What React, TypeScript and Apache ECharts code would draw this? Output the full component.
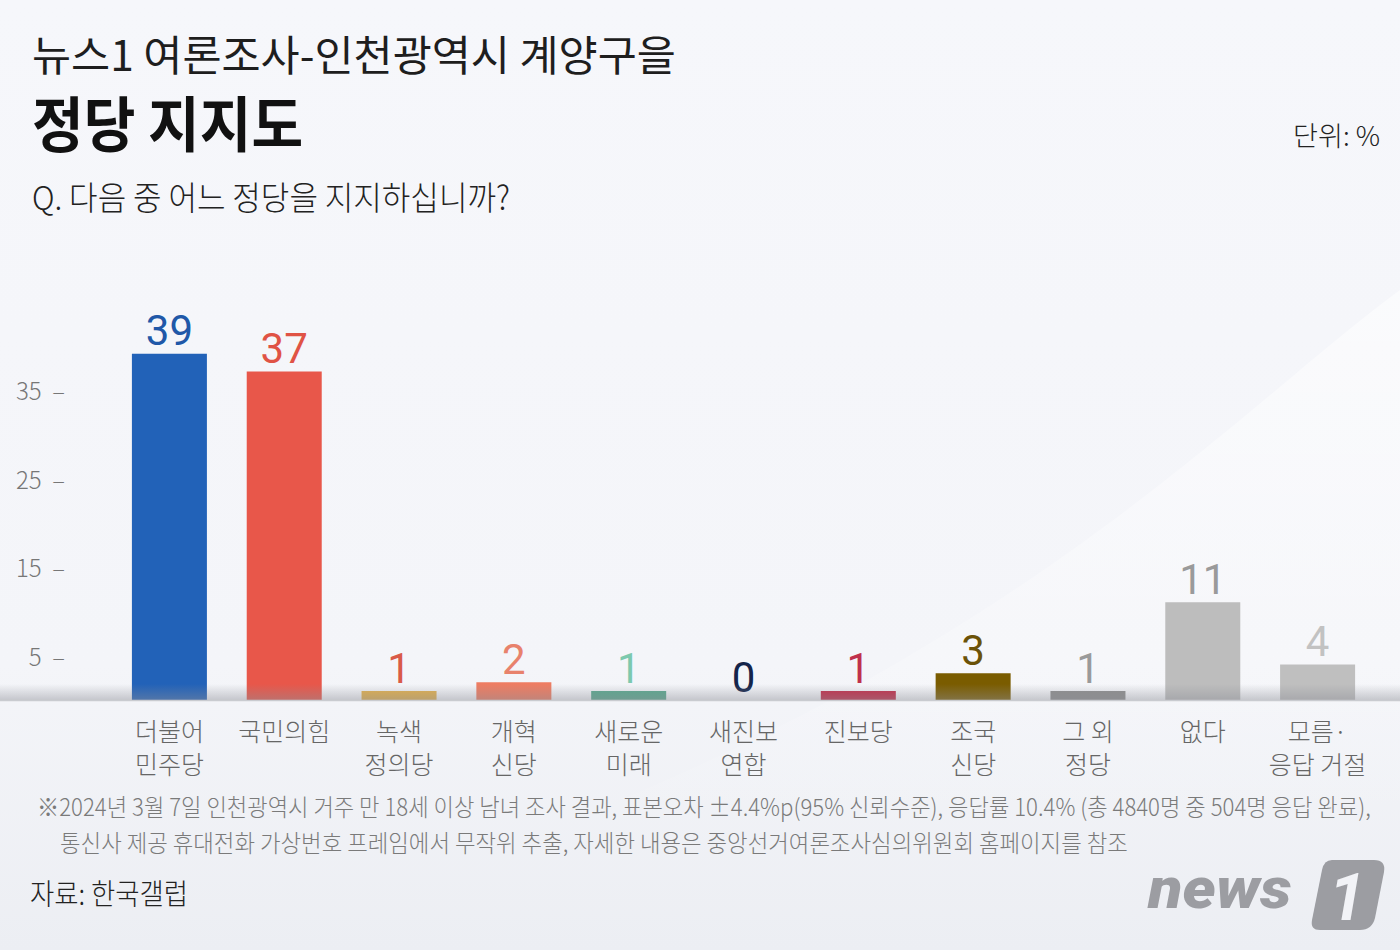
import React, { useEffect, useRef } from "react";
import * as echarts from "echarts";

const categories = [
  "더불어\n민주당",
  "국민의힘",
  "녹색\n정의당",
  "개혁\n신당",
  "새로운\n미래",
  "새진보\n연합",
  "진보당",
  "조국\n신당",
  "그 외\n정당",
  "없다",
  "모름·\n응답 거절",
];
const values = [39, 37, 1, 2, 1, 0, 1, 3, 1, 11, 4];
const barColors = [
  "#2262b8", "#e8574a", "#e2b04e", "#ee7c62", "#5aa88e", "#1a2850",
  "#c22c48", "#7a5c00", "#8e8e8e", "#bdbdbd", "#bfbfbf",
];
const labelColors = [
  "#2058a8", "#e05345", "#d95a48", "#e8826c", "#7cc9ae", "#14244a",
  "#c0304c", "#6b5208", "#9a9a9a", "#9a9a9a", "#c2c2c2",
];
const yTickLabels = [5, 15, 25, 35];

const TITLE = "뉴스1 여론조사-인천광역시 계양구을";
const HEADLINE = "정당 지지도";
const QUESTION = "Q. 다음 중 어느 정당을 지지하십니까?";
const UNIT = "단위: %";
const NOTE1 =
  "※2024년 3월 7일 인천광역시 거주 만 18세 이상 남녀 조사 결과, 표본오차 ±4.4%p(95% 신뢰수준), 응답률 10.4% (총 4840명 중 504명 응답 완료),";
const NOTE2 =
  "통신사 제공 휴대전화 가상번호 프레임에서 무작위 추출, 자세한 내용은 중앙선거여론조사심의위원회 홈페이지를 참조";
const SOURCE = "자료: 한국갤럽";

const KR = '"Noto Sans CJK KR", "Noto Sans", sans-serif';

let registered = false;
function registerShapes() {
  if (registered) return;
  registered = true;
  echarts.graphic.registerShape(
    "news1box",
    echarts.graphic.extendPath(
      "M 20 0 L 62 0 Q 74 0 72 12 L 63 58 Q 60 70 48 70 L 8 70 Q -2 70 0 60 L 10 10 Q 12 0 20 0 Z",
      {}
    )
  );
  echarts.graphic.registerShape(
    "swoosh",
    echarts.graphic.extendPath(
      "M 1400 290 C 1250 400 1050 620 620 800 L 1400 800 Z",
      {}
    )
  );
}

function measure(text: string, size: number, weight: string, family = KR) {
  const c = document.createElement("canvas").getContext("2d")!;
  c.font = `${weight} ${size}px ${family}`;
  return c.measureText(text).width;
}

function fitText(
  text: string,
  x: number,
  y: number,
  size: number,
  weight: string,
  color: string,
  targetWidth: number,
  align: "left" | "right" = "left",
  family = KR,
  extra: any = {}
) {
  const w = measure(text, size, weight, family);
  const sx = w > 0 ? targetWidth / w : 1;
  return {
    type: "text",
    x,
    y,
    scaleX: sx,
    z: 20,
    style: {
      text,
      fontSize: size,
      fontWeight: weight,
      fontFamily: family,
      fill: color,
      align,
      verticalAlign: "middle",
      ...extra,
    },
  };
}

export default function App() {
  const ref = useRef<HTMLDivElement>(null);

  useEffect(() => {
    document.body.style.margin = "0";
    if (!ref.current) return;
    registerShapes();
    const chart = echarts.init(ref.current, undefined, { renderer: "svg" });

    const graphic: any[] = [
      {
        type: "rect",
        z: -10,
        shape: { x: 0, y: 0, width: 1400, height: 950 },
        style: {
          fill: new echarts.graphic.LinearGradient(0, 0, 0, 1, [
            { offset: 0, color: "#f6f7fb" },
            { offset: 0.7, color: "#f4f5f9" },
            { offset: 1, color: "#eceef3" },
          ]),
        },
      },
      {
        type: "swoosh",
        z: -9,
        x: 0,
        y: 0,
        style: {
          fill: new echarts.graphic.LinearGradient(0, 0, 0, 1, [
            { offset: 0, color: "rgba(255,255,255,0.55)" },
            { offset: 1, color: "rgba(255,255,255,0.05)" },
          ]),
        },
      },
      // baseline shadow band
      {
        type: "rect",
        z: 10,
        shape: { x: 0, y: 684, width: 1400, height: 16 },
        style: {
          fill: new echarts.graphic.LinearGradient(0, 0, 0, 1, [
            { offset: 0, color: "rgba(140,142,150,0)" },
            { offset: 1, color: "rgba(140,142,150,0.45)" },
          ]),
        },
      },
      {
        type: "line",
        z: 11,
        shape: { x1: 0, y1: 700.5, x2: 1400, y2: 700.5 },
        style: { stroke: "#c9cbd0", lineWidth: 1.5 },
      },
      fitText(TITLE, 32, 53, 42, "normal", "#1e1e1e", 644),
      fitText(HEADLINE, 32, 121, 60, "bold", "#111111", 271),
      fitText(QUESTION, 32, 196, 33, "300", "#222222", 478),
      fitText(UNIT, 1380, 135, 27, "300", "#222222", 87, "right"),
      fitText(NOTE1, 37, 806, 24, "300", "#7a7a7a", 1334),
      fitText(NOTE2, 60, 842, 24, "300", "#7a7a7a", 1068),
      fitText(SOURCE, 30, 892, 29, "300", "#222222", 158),
      // news1 logo
      fitText("news", 1148, 888, 58, "900", "#9c9da2", 148, "left", "Roboto, sans-serif", {
        fontStyle: "italic",
      }),
      {
        type: "news1box",
        z: 20,
        x: 1312,
        y: 860,
        style: { fill: "#9c9da2" },
      },
      {
        type: "text",
        z: 21,
        x: 1347,
        y: 897,
        style: {
          text: "1",
          fontSize: 66,
          fontWeight: "bold",
          fontStyle: "italic",
          fontFamily: "Roboto, sans-serif",
          fill: "#f2f3f7",
          align: "center",
          verticalAlign: "middle",
        },
      },
    ];

    chart.setOption({
      animation: false,
      grid: { left: 112, right: 25, top: 256, bottom: 250, containLabel: false },
      xAxis: {
        type: "category",
        data: categories,
        boundaryGap: true,
        axisLine: { show: false },
        axisTick: { show: false },
        axisLabel: {
          color: "#666666",
          fontSize: 25,
          fontWeight: 300,
          lineHeight: 33,
          fontFamily: KR,
          margin: 13,
          interval: 0,
        },
      },
      yAxis: {
        type: "value",
        min: 0,
        max: 50,
        interval: 5,
        splitLine: { show: false },
        axisLine: { show: false },
        axisTick: { show: false },
        axisLabel: {
          color: "#777777",
          fontSize: 24,
          fontWeight: 300,
          fontFamily: KR,
          margin: 47,
          padding: [8, 0, 0, 0],
          formatter: (v: number) =>
            yTickLabels.includes(v) ? `${v}  –` : "",
        },
      },
      series: [
        {
          type: "bar",
          barWidth: 75,
          data: values.map((v, i) => ({
            value: v,
            itemStyle: { color: barColors[i] },
            label: { color: labelColors[i] },
          })),
          label: {
            show: true,
            position: "top",
            distance: 2,
            fontSize: 42,
            fontFamily: "Roboto, sans-serif",
            fontWeight: 400,
          },
        },
      ],
      graphic,
    });

    return () => chart.dispose();
  }, []);

  return <div ref={ref} style={{ width: 1400, height: 950 }} />;
}
